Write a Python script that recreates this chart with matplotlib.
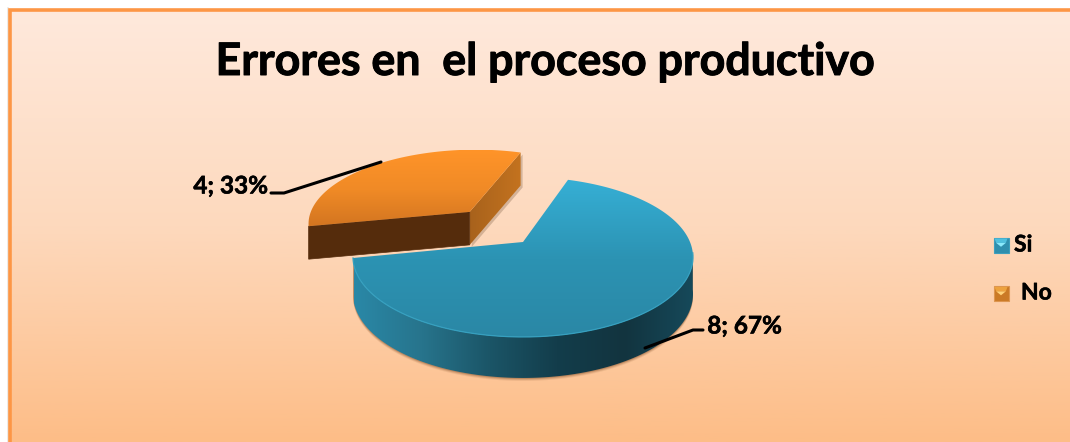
import numpy as np
import matplotlib
matplotlib.use("Agg")
import matplotlib.pyplot as plt
import matplotlib.patheffects as pe
from matplotlib.patches import Polygon, Rectangle
from matplotlib.colors import LinearSegmentedColormap as LSC

plt.rcParams['font.family'] = ['Lato', 'DejaVu Sans']

# Chart data
categories = ["Si", "No"]
values = [8, 4]
title = "Errores en  el proceso productivo"

W, H = 1070, 442
fig = plt.figure(figsize=(W / 100, H / 100), dpi=100, facecolor="white")
ax = fig.add_axes([0, 0, 1, 1])
ax.set_xlim(0, W)
ax.set_ylim(H, 0)
ax.axis("off")

# Projection of the tilted disc
CX, CY, RX, RY, K = 523.0, 242.0, 167.0, 77.2, 0.187
K_NO = 0.13
START = 71.5
EXPLODE = 0.52


def project(u, v, k=K):
    d = 1 + k * v
    return CX + RX * u / d, CY - RY * v / d


def depth(v):
    return 36 - 5 * v


def gradient(cmap_colors, extent, vertical, clip, z):
    ramp = np.linspace(0, 1, 256)
    arr = ramp[:, None] if vertical else ramp[None, :]
    cmap = LSC.from_list("g", cmap_colors)
    im = ax.imshow(arr, cmap=cmap, extent=extent, aspect="auto", zorder=z,
                   interpolation="bilinear", vmin=0, vmax=1)
    patch = Polygon(clip, closed=True, transform=ax.transData, fc="none", ec="none")
    ax.add_patch(patch)
    im.set_clip_path(patch)
    ax.set_xlim(0, W)
    ax.set_ylim(H, 0)
    return im


# Background panel with its top and left border
ax.imshow(np.linspace(0, 1, 256)[:, None],
          cmap=LSC.from_list("bg", ["#ffe9dc", "#fdd9bd", "#fdbd87"]),
          extent=(10, W, H, 10), aspect="auto", zorder=0)
ax.plot([7.5, 7.5], [H, 8], color="#e9e6e3", lw=1.2, zorder=1)
ax.plot([10, 10, W], [H, 10, 10], color="#fd9645", lw=2.6, zorder=1,
        solid_joinstyle="miter")
ax.set_xlim(0, W)
ax.set_ylim(H, 0)

total = sum(values)
sweeps = [360 * v / total for v in values]

# Slice "Si" runs from the end of "No" round to the start angle
si_start = START + sweeps[1]
si_end = si_start + sweeps[0]
no_start = START
no_end = START + sweeps[1]


def arc(t0, t1, off=(0, 0), n=240):
    t = np.radians(np.linspace(t0, t1, n))
    return np.cos(t) + off[0], np.sin(t) + off[1]


def xy(u, v, k=K):
    return np.array(project(np.asarray(u), np.asarray(v), k)).T


def lower(u, v):
    p = xy(u, v)
    p[:, 1] += depth(np.asarray(v))
    return p


# Slice "Si": outer wall
u, v = arc(si_start, si_end)
top = xy(u, v)
bot = lower(u, v)
mask = (top[:, 1] >= top[:, 1][np.argmin(top[:, 0])] - 6)
wall = np.vstack([top[mask], bot[mask][::-1]])
# soft contact shadow beneath the wall
for grow, a in [(3.0, 0.10), (2.0, 0.16), (1.0, 0.25)]:
    ax.add_patch(Polygon(wall + [0, grow], closed=True, fc="#6b3a14", ec="none",
                         alpha=a, zorder=3))
gradient(["#2a88a7", "#27748c", "#1b5567", "#133d4b", "#12343f", "#16495a"],
         (354, 693, 380, 200), False, wall, 4)

# Slice "Si": top face
poly = np.vstack([xy(*arc(si_start, si_end)), xy([0.0], [0.0])])
gradient(["#36b0d6", "#2c93b3", "#2a87a5"], (340, 700, 340, 177), True, poly, 5)
# highlight along the front rim
ax.plot(top[mask][:, 0], top[mask][:, 1], color="#35a0c0", lw=0.9, zorder=6)

# Slice "No": exploded along its bisector
mid = np.radians((no_start + no_end) / 2)
off = (EXPLODE * np.cos(mid), EXPLODE * np.sin(mid))
NO_LIFT = np.array([1.5, -1.5])
NO_DEPTH = np.array([0.0, 33.0])
u, v = arc(no_start, no_end, off)
n_top = xy(u, v, K_NO) + NO_LIFT
c1 = (np.cos(np.radians(no_start)) + off[0], np.sin(np.radians(no_start)) + off[1])
c2 = (np.cos(np.radians(no_end)) + off[0], np.sin(np.radians(no_end)) + off[1])

a_top = xy([off[0]], [off[1]], K_NO)[0] + NO_LIFT
c1_top = xy([c1[0]], [c1[1]], K_NO)[0] + NO_LIFT
c2_top = xy([c2[0]], [c2[1]], K_NO)[0] + NO_LIFT
a_bot, c1_bot, c2_bot = a_top + NO_DEPTH, c1_top + NO_DEPTH, c2_top + NO_DEPTH

# Cut faces
right_face = np.array([c1_top, a_top, a_bot, c1_bot])
front_face = np.array([a_top, c2_top, c2_bot, a_bot])
ax.add_patch(Polygon(right_face + [2, 2], closed=True, fc="#8a6a50", ec="none", alpha=0.35, zorder=6))
gradient(["#a8621c", "#c4731f"], (a_top[0], c1_top[0] + 1, 260, 150), False, right_face, 7)
ax.add_patch(Polygon(front_face, closed=True, fc="#552c0c", ec="#552c0c", lw=0.5, zorder=8))

# Top face of "No"
n_poly = np.vstack([n_top, a_top])
gradient(["#ff9429", "#f08a26", "#d07320"], (300, 530, 230, 150), True, n_poly, 9)

# Leader lines
ax.plot([271, 284, 381], [193, 193, 162], color="black", lw=2.2, zorder=10,
        solid_capstyle="round", solid_joinstyle="round")
ax.plot([645, 693, 703], [348, 330, 330], color="black", lw=2.2, zorder=10,
        solid_capstyle="round", solid_joinstyle="round")


def pct(v):
    return f"{v}; {round(100 * v / total)}%"


# Title and data labels
heavy = [pe.withStroke(linewidth=0.4, foreground="black")]
ax.text(545, 62, title, ha="center", va="center", fontsize=32.2, fontweight="bold",
        color="black", zorder=11, path_effects=[pe.withStroke(linewidth=0.7, foreground="black")])
ax.text(230.5, 186, pct(values[1]), ha="center", va="center", fontsize=17.5, fontweight="bold",
        zorder=11, path_effects=heavy)
ax.text(744.5, 326, pct(values[0]), ha="center", va="center", fontsize=17.5, fontweight="bold",
        zorder=11, path_effects=heavy)


# Legend keys with a bevelled look
def key(x, y, s, face, edge, light, bright):
    ax.add_patch(Rectangle((x, y), s, s, fc=face, ec=edge, lw=0.8, zorder=11))
    m = s * 0.18
    ax.add_patch(Polygon([(x + 1, y + 1), (x + s - 1, y + 1), (x + s - m, y + 2 * m), (x + m, y + 2 * m)],
                         closed=True, fc=light, ec="none", zorder=12))
    ax.add_patch(Polygon([(x + m, y + 2 * m), (x + s - m, y + 2 * m), (x + s / 2, y + s * 0.62)],
                         closed=True, fc=bright, ec="none", zorder=12))


key(993.5, 237.5, 15, "#2f8fae", "#3d9fbd", "#4fc0de", "#8beafc")
key(993.5, 286, 15, "#cb7a26", "#dd9650", "#eda23f", "#ffd27a")
ax.text(1014, 245, categories[0], ha="left", va="center", fontsize=16.5, fontweight="bold",
        zorder=11, path_effects=heavy)
ax.text(1021, 293, categories[1], ha="left", va="center", fontsize=16.5, fontweight="bold",
        zorder=11, path_effects=heavy)

fig.savefig("out.png", dpi=100, facecolor="white")
